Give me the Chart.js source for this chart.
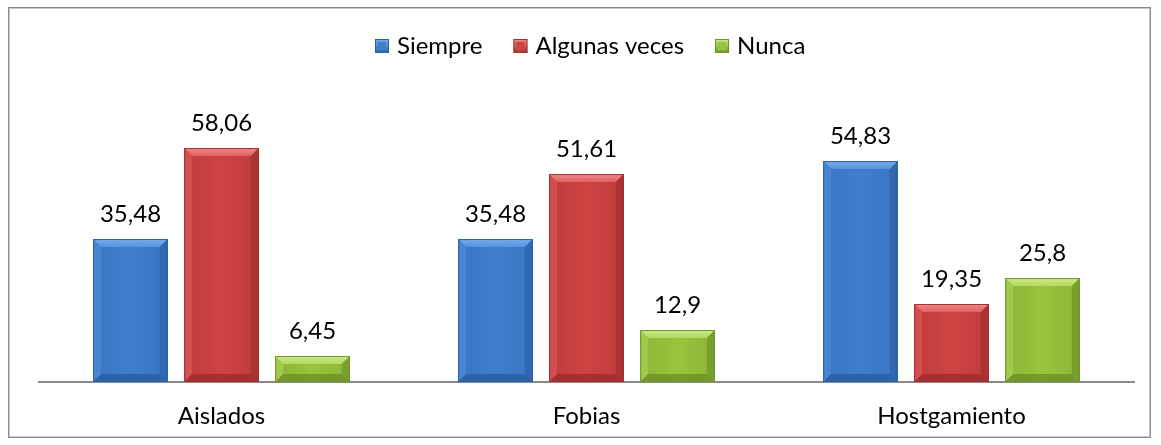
<!DOCTYPE html>
<html><head><meta charset="utf-8">
<script src="https://cdn.jsdelivr.net/npm/chart.js@4.4.1/dist/chart.umd.min.js"></script>
<style>html,body{margin:0;padding:0;background:#fff}#wrap{width:1161px;height:445px;position:relative}</style>
</head><body><div id="wrap"><canvas id="c" width="1161" height="445"></canvas></div>
<script>
const categories = ["Aislados", "Fobias", "Hostgamiento"];
const seriesNames = ["Siempre", "Algunas veces", "Nunca"];
const siempre = [35.48, 35.48, 54.83];
const algunasVeces = [58.06, 51.61, 19.35];
const nunca = [6.45, 12.9, 25.8];
const valueLabels = [["35,48","35,48","54,83"],["58,06","51,61","19,35"],["6,45","12,9","25,8"]];

const colors = [
  {base:"#3F7FCE", light:"#79AEEC", mid:"#5592DC", dark:"#2C61A6", side:"#3874C0"},
  {base:"#D04343", light:"#F08A8A", mid:"#E06060", dark:"#A22F2F", side:"#BF3B3B"},
  {base:"#9AC43D", light:"#CDEA8A", mid:"#B2D862", dark:"#6F9628", side:"#8BB535"}
];
const FONT = "Lato, 'Open Sans', sans-serif";
const FS = 24;

const bevelPlugin = {
  id: 'bevel',
  afterDatasetsDraw(chart) {
    const ctx = chart.ctx;
    chart.data.datasets.forEach((ds, di) => {
      const meta = chart.getDatasetMeta(di);
      const c = colors[di];
      meta.data.forEach((bar, i) => {
        const x0 = bar.x - bar.width/2, x1 = bar.x + bar.width/2;
        const y0 = bar.y, y1 = bar.base;
        const b = Math.min(8, (y1-y0)/2);
        ctx.save();
        const g = ctx.createLinearGradient(x0,0,x1,0);
        g.addColorStop(0, c.side); g.addColorStop(0.5, c.base); g.addColorStop(1, c.side);
        ctx.fillStyle = g; ctx.fillRect(x0,y0,x1-x0,y1-y0);
        const gt = ctx.createLinearGradient(0,y0,0,y0+b);
        gt.addColorStop(0, c.light); gt.addColorStop(1, c.mid);
        ctx.fillStyle = gt;
        ctx.beginPath(); ctx.moveTo(x0,y0); ctx.lineTo(x1,y0); ctx.lineTo(x1-b,y0+b); ctx.lineTo(x0+b,y0+b); ctx.closePath(); ctx.fill();
        ctx.fillStyle = c.mid; ctx.globalAlpha = 0.55;
        ctx.beginPath(); ctx.moveTo(x0,y0); ctx.lineTo(x0+b,y0+b); ctx.lineTo(x0+b,y1-b); ctx.lineTo(x0,y1); ctx.closePath(); ctx.fill();
        ctx.fillStyle = c.dark; ctx.globalAlpha = 0.7;
        ctx.beginPath(); ctx.moveTo(x1,y0); ctx.lineTo(x1-b,y0+b); ctx.lineTo(x1-b,y1-b); ctx.lineTo(x1,y1); ctx.closePath(); ctx.fill();
        ctx.globalAlpha = 0.9;
        ctx.beginPath(); ctx.moveTo(x0,y1); ctx.lineTo(x0+b,y1-b); ctx.lineTo(x1-b,y1-b); ctx.lineTo(x1,y1); ctx.closePath(); ctx.fill();
        ctx.globalAlpha = 1;
        ctx.strokeStyle = c.dark; ctx.lineWidth = 1;
        ctx.strokeRect(x0+0.5,y0+0.5,x1-x0-1,y1-y0-1);
        ctx.fillStyle = "#000"; ctx.font = FS + "px " + FONT;
        ctx.textAlign = "center"; ctx.textBaseline = "alphabetic";
        ctx.fillText(valueLabels[di][i], bar.x, y0 - 17);
        ctx.restore();
      });
    });
  }
};

const legendPlugin = {
  id: 'customLegend',
  afterDraw(chart) {
    const ctx = chart.ctx;
    ctx.save();
    ctx.font = FS + "px " + FONT;
    const box = 14, gapText = 8, gapItem = 31;
    const widths = chart.data.datasets.map(ds => ctx.measureText(ds.label).width);
    let total = widths.reduce((a,w)=>a+box+gapText+w,0) + gapItem*(widths.length-1);
    let x = Math.round(590 - total/2);
    const cy = 46;
    chart.data.datasets.forEach((ds, i) => {
      const c = colors[i];
      const g = ctx.createLinearGradient(0, cy-7, 0, cy+7);
      g.addColorStop(0, c.light); g.addColorStop(1, c.dark);
      ctx.fillStyle = g;
      ctx.fillRect(x, cy-7, box, box);
      ctx.fillStyle = c.base;
      ctx.fillRect(x+3, cy-4, box-6, box-6);
      ctx.strokeStyle = c.dark; ctx.lineWidth = 1;
      ctx.strokeRect(x+0.5, cy-6.5, box-1, box-1);
      ctx.fillStyle = "#000"; ctx.textAlign = "left"; ctx.textBaseline = "middle";
      ctx.fillText(ds.label, x + box + gapText, cy);
      x += box + gapText + widths[i] + gapItem;
    });
    ctx.restore();
  }
};

const framePlugin = {
  id: 'frame',
  afterDraw(chart) {
    const ctx = chart.ctx;
    ctx.save();
    ctx.strokeStyle = "#8a8a8a"; ctx.lineWidth = 1;
    ctx.strokeRect(8.5, 7.5, 1142, 430);
    ctx.strokeStyle = "#c8c8c8";
    ctx.strokeRect(9.5, 8.5, 1140, 428);
    ctx.restore();
  }
};

new Chart(document.getElementById('c'), {
  type: 'bar',
  data: {
    labels: categories,
    datasets: [
      {label: seriesNames[0], data: siempre, backgroundColor: colors[0].base},
      {label: seriesNames[1], data: algunasVeces, backgroundColor: colors[1].base},
      {label: seriesNames[2], data: nunca, backgroundColor: colors[2].base}
    ]
  },
  options: {
    responsive: false,
    animation: false,
    devicePixelRatio: 1,
    layout: {padding: {left: 39, right: 27, top: 100, bottom: 11}},
    datasets: {bar: {categoryPercentage: 0.748, barPercentage: 0.82}},
    plugins: {
      legend: {display: false},
      tooltip: {enabled: false}
    },
    scales: {
      x: {
        grid: {display: false, drawTicks: false},
        border: {color: "#8a8a8a", width: 2},
        ticks: {font: {family: FONT, size: FS}, color: "#000", padding: 20},
        afterFit(scale) { scale.height = 52; }
      },
      y: {display: false, min: 0, max: 70}
    }
  },
  plugins: [bevelPlugin, legendPlugin, framePlugin]
});
</script></body></html>
